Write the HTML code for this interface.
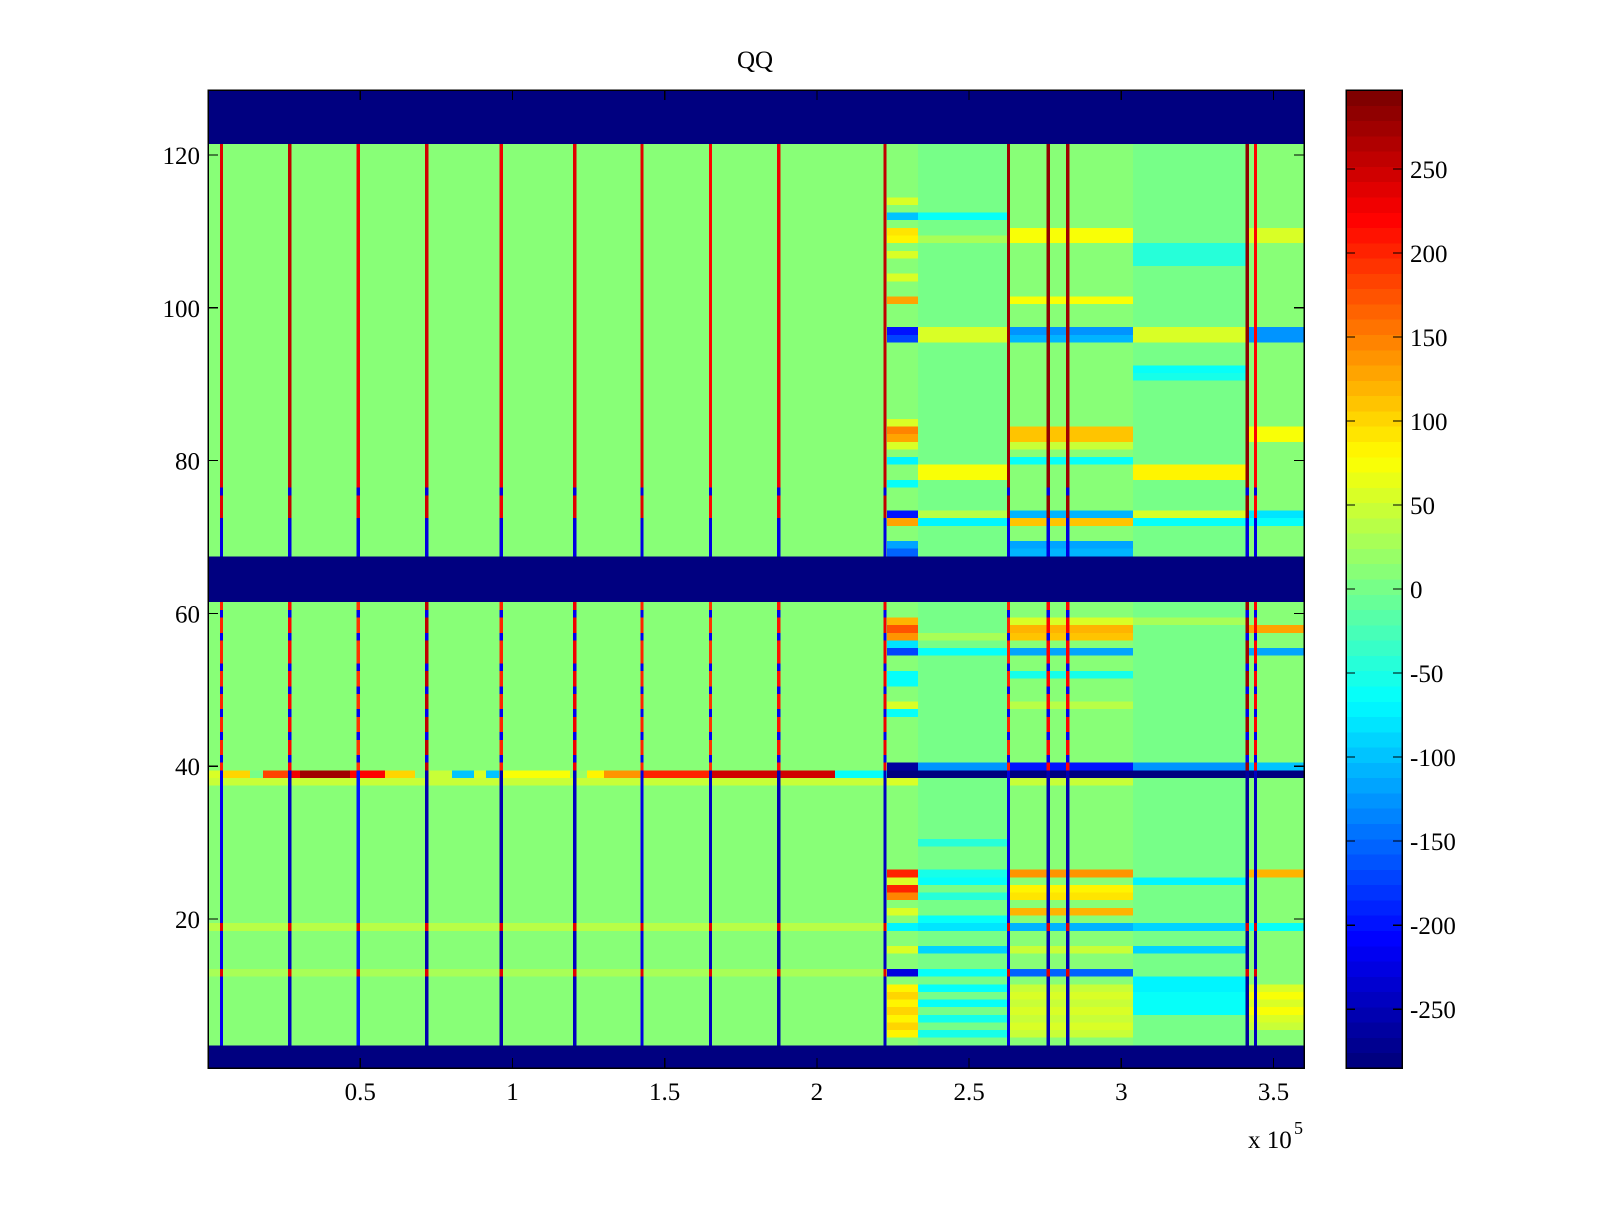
<!DOCTYPE html>
<html><head><meta charset="utf-8"><style>
html,body{margin:0;padding:0;background:#fff;}
svg text{font-family:"Liberation Serif",serif;font-size:25px;fill:#000;}
</style></head><body>
<svg id="chart" width="1600" height="1200" xmlns="http://www.w3.org/2000/svg" shape-rendering="crispEdges">
<rect x="0" y="0" width="1600" height="1200" fill="#fff"/>
<g id="cells"></g>
<g id="cbar"></g>
<g id="axes"></g>
<text x="755" y="68" text-anchor="middle">QQ</text>
<text x="1248" y="1148">x 10</text>
<text x="1294" y="1134" font-size="18" style="font-size:18px">5</text>
</svg>
<script>
// ---- data ----
const blueRows = [1,2,3,62,63,64,65,66,67,122,123,124,125,126,127,128];
const regionStarts = [0, 2.230, 2.332, 2.632, 3.039, 3.42];
const regionEnds   = [2.230, 2.332, 2.632, 3.039, 3.42, 3.60];
const regionBase   = [10, 10, 0, 10, 0, 10];
const leftRows = [38, 19, 13];
const leftVals = [50, 40, 30];
const bRows = [114,112,110,109,107,104,101,97,96,85,84,83,82,80,77,73,72,69,68,59,58,57,56,55,52,51,48,47,40,39,38,26,25,24,23,21,19,16,13,11,10,9,8,7,6,5];
const bVals = [60,-100,90,80,60,60,130,-200,-170,60,150,130,60,-70,-60,-200,130,-120,-150,120,170,140,-80,-170,-60,-60,60,-60,-260,-285,60,200,60,200,150,60,-70,60,-230,80,100,80,100,80,100,80];
const cRows = [112,109,97,96,79,78,73,72,57,55,40,39,30,26,25,23,20,19,16,13,11,9,7,5];
const cVals = [-60,30,60,60,70,70,40,-70,30,-60,-130,-285,-40,-50,-60,-40,-60,-80,-90,-60,-60,-60,-50,-50];
const dRows = [110,109,101,97,96,84,83,82,80,73,72,69,68,59,58,57,55,52,48,40,39,38,26,24,23,21,19,16,13,11,10,9,8,7,6,5];
const dVals = [70,70,70,-130,-110,110,110,50,-60,-110,110,-120,-110,60,120,110,-120,-50,40,-200,-285,50,140,80,90,120,-110,50,-150,50,60,50,60,50,60,50];
const eRows = [108,107,106,97,96,92,91,79,78,73,72,59,40,39,25,19,16,12,11,10,9,8];
const eVals = [-40,-40,-40,60,60,-60,-50,80,80,60,-60,30,-130,-285,-70,-90,-90,-70,-70,-60,-60,-60];
const fRows = [110,109,97,96,84,83,73,72,58,55,40,39,26,19,11,10,9,8,7,6];
const fVals = [60,60,-130,-130,70,70,-80,-60,130,-120,-100,-285,120,-60,60,70,60,70,60,50];
const row39Starts = [0,0.043,0.138,0.181,0.263,0.302,0.466,0.581,0.680,0.719,0.802,0.874,0.913,0.956,1.189,1.245,1.301,1.426,1.646,2.060];
const row39Vals   = [60,100,0,180,230,270,220,100,10,50,-100,60,-100,70,20,80,140,200,250,-60];
const lineX   = [0.044,0.268,0.493,0.718,0.963,1.204,1.425,1.650,1.874,2.223,2.629,2.760,2.823,3.413,3.440];
const lineTop = [240,260,230,250,230,240,240,220,230,260,270,280,270,280,220];
const lineMid = [200,220,190,260,200,230,200,190,210,230,200,220,220,270,220];
const lineLow = [-220,-240,-200,-250,-250,-240,-230,-240,-250,-240,-230,-250,-250,-260,-240];
const topBlueRows = [76,72,71,70,69,68];
const midBlueRows = [41,44,47,50,53,57,60];
const lowRedRows = [19,13];
const cbTicks = [-250,-200,-150,-100,-50,0,50,100,150,200,250];
const xTicks = [0.5,1,1.5,2,2.5,3,3.5];
const xTickLabels = ["0.5","1","1.5","2","2.5","3","3.5"];
const yTicks = [20,40,60,80,100,120];

// ---- scales ----
const PL=208, PR=1304, PT=90, PB=1068, XMAX=3.6, YMIN=0.5, YMAX=128.5, CMIN=-285, CMAX=297;
const xS = x => PL + x/XMAX*(PR-PL);
const yS = v => PT + (YMAX-v)/(YMAX-YMIN)*(PB-PT);
function jet(v){
  let t=(v-CMIN)/(CMAX-CMIN); t=Math.max(0,Math.min(1,t));
  t=Math.min(63,Math.floor(t*64))/63;
  const c=a=>Math.round(255*Math.max(0,Math.min(1,a)));
  return `rgb(${c(1.5-Math.abs(4*t-3))},${c(1.5-Math.abs(4*t-2))},${c(1.5-Math.abs(4*t-1))})`;
}
const NS="http://www.w3.org/2000/svg";
const cells=document.getElementById('cells');
function cell(x0,x1,r,v,name){
  const el=document.createElementNS(NS,'rect');
  el.setAttribute('x',xS(x0).toFixed(2));
  el.setAttribute('y',yS(r+0.5).toFixed(2));
  el.setAttribute('width',(xS(x1)-xS(x0)+0.3).toFixed(2));
  el.setAttribute('height',(yS(r-0.5)-yS(r+0.5)+0.3).toFixed(2));
  el.setAttribute('fill',jet(v));
  
  
  cells.appendChild(el);
}
const regRows=[leftRows,bRows,cRows,dRows,eRows,fRows];
const regVals=[leftVals,bVals,cVals,dVals,eVals,fVals];
for(let r=1;r<=128;r++){
  if(blueRows.includes(r)){cell(0,XMAX,r,-285,'blank-row-cell');continue;}
  for(let g=0;g<regionStarts.length;g++){
    let v=regionBase[g];
    const i=regRows[g].indexOf(r);
    if(i>=0)v=regVals[g][i];
    if(g===0&&r===39){
      for(let k=0;k<row39Starts.length;k++){
        const e=k+1<row39Starts.length?row39Starts[k+1]:regionEnds[0];
        cell(row39Starts[k],e,r,row39Vals[k],'row39-cell');
      }
      continue;
    }
    cell(regionStarts[g],regionEnds[g],r,v,'heatmap-cell');
  }
  for(let l=0;l<lineX.length;l++){
    let v;
    if(r>=68){v=topBlueRows.includes(r)?-230:lineTop[l];}
    else if(r>=40){v=midBlueRows.includes(r)?-220:lineMid[l];}
    else {v=lowRedRows.includes(r)?240:lineLow[l];}
    cell(lineX[l]-0.005,lineX[l]+0.005,r,v,'spike-line-cell');
  }
}
// ---- colorbar ----
const cb=document.getElementById('cbar');
const CBL=1346,CBR=1402;
const cyS=v=>PT+(CMAX-v)/(CMAX-CMIN)*(PB-PT);
for(let i=0;i<64;i++){
  const v0=CMIN+(CMAX-CMIN)*i/64, v1=CMIN+(CMAX-CMIN)*(i+1)/64;
  const el=document.createElementNS(NS,'rect');
  el.setAttribute('x',CBL);el.setAttribute('y',cyS(v1).toFixed(2));
  el.setAttribute('width',CBR-CBL);el.setAttribute('height',(cyS(v0)-cyS(v1)+0.5).toFixed(2));
  el.setAttribute('fill',jet((v0+v1)/2));
  
  
  cb.appendChild(el);
}
const ax=document.getElementById('axes');
function add(tag,attrs,name,text){
  const el=document.createElementNS(NS,tag);
  for(const k in attrs)el.setAttribute(k,attrs[k]);
  
  
  if(text!==undefined)el.textContent=text;
  ax.appendChild(el);return el;
}
add('rect',{x:CBL,y:PT,width:CBR-CBL,height:PB-PT,fill:'none',stroke:'#000','stroke-width':1.5},'colorbar-frame');
cbTicks.forEach(v=>{
  const y=cyS(v);
  add('line',{x1:CBL,x2:CBL+9,y1:y,y2:y,stroke:'#000','stroke-width':1.2},'colorbar-tick');
  add('line',{x1:CBR-9,x2:CBR,y1:y,y2:y,stroke:'#000','stroke-width':1.2},'colorbar-tick');
  add('text',{x:1410,y:y+9},'colorbar-tick-label',String(v));
});
add('rect',{x:PL,y:PT,width:PR-PL,height:PB-PT,fill:'none',stroke:'#000','stroke-width':1.5},'plot-frame');
xTicks.forEach((v,i)=>{
  const x=xS(v);
  add('line',{x1:x,x2:x,y1:PB,y2:PB-10,stroke:'#000','stroke-width':1.2},'x-tick');
  add('line',{x1:x,x2:x,y1:PT,y2:PT+10,stroke:'#000','stroke-width':1.2},'x-tick-top');
  add('text',{x:x,y:1100,'text-anchor':'middle'},'x-tick-label',xTickLabels[i]);
});
yTicks.forEach(v=>{
  const y=yS(v);
  add('line',{x1:PL,x2:PL+10,y1:y,y2:y,stroke:'#000','stroke-width':1.2},'y-tick');
  add('line',{x1:PR-10,x2:PR,y1:y,y2:y,stroke:'#000','stroke-width':1.2},'y-tick-right');
  add('text',{x:200,y:y+9,'text-anchor':'end'},'y-tick-label',String(v));
});
</script>
</body></html>
